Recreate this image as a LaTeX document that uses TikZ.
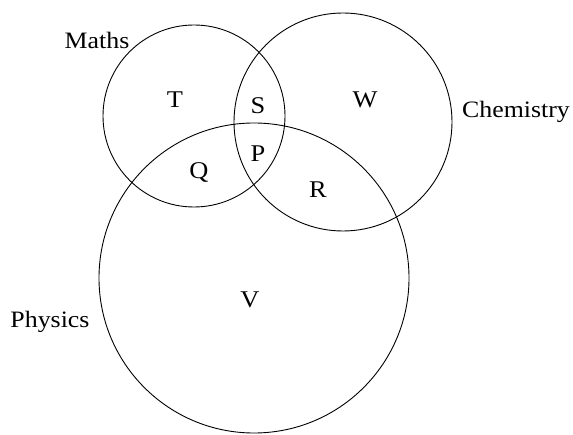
\documentclass[tikz,border=0pt]{standalone}
\usepackage{fontspec}
\setmainfont{Liberation Serif}[FakeStretch=1.1]
\tikzset{set/.style={draw=black,circle,line width=0.9pt,inner sep=0pt},reg/.style={font=\fontsize{24}{24}\selectfont,inner sep=0pt},setlab/.style={font=\fontsize{23.5}{24}\selectfont,inner sep=0pt}}

\begin{document}
\begin{tikzpicture}[x=1pt,y=-1pt]
\useasboundingbox (0,0) rectangle (573,435);
% the three sets
\node[set,minimum size=182pt] (maths) at (194,116) {};
\node[set,minimum size=218pt] (chem) at (343,122) {};
\node[set,minimum size=310pt] (phys) at (254,278) {};
% set names
\node[setlab] (mathslab) at (97,40) {Maths};
\node[setlab] (chemlab) at (516,112) {Chemistry};
\node[setlab] (physlab) at (50,322) {Physics};
% regions
\node[reg] (t) at (175,100) {T};
\node[reg] (s) at (258,106) {S};
\node[reg] (w) at (365,100) {W};
\node[reg] (p) at (258,154) {P};
\node[reg] (q) at (199,173) {Q};
\node[reg] (r) at (318,190) {R};
\node[reg] (v) at (250,300) {V};
\end{tikzpicture}
\end{document}
